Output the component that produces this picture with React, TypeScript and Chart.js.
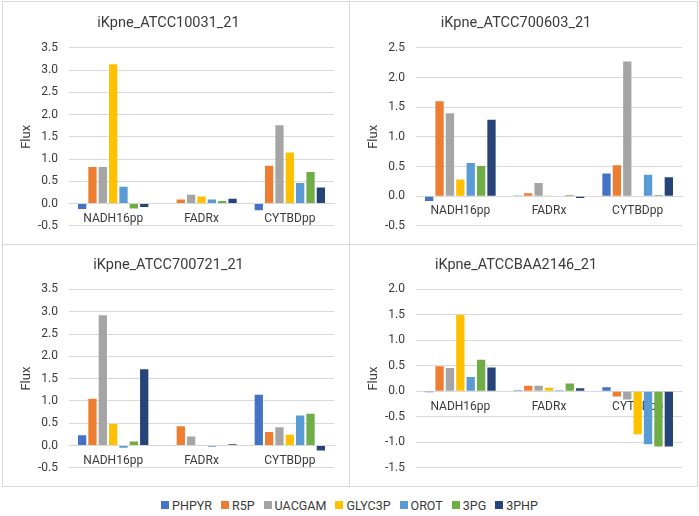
import React, { useEffect, useRef } from 'react';
import { Chart, registerables } from 'chart.js';

Chart.register(...registerables);

const FONT = 'Roboto';
const TEXT = '#3a3a3a';
const GRID = '#d9d9d9';

const reactions = ['NADH16pp', 'FADRx', 'CYTBDpp'];
const metabolites = ['PHPYR', 'R5P', 'UACGAM', 'GLYC3P', 'OROT', '3PG', '3PHP'];
const colors = ['#4472C4', '#ED7D31', '#A5A5A5', '#FFC000', '#5B9BD5', '#70AD47', '#264478'];

// one row per metabolite, values in reaction order: NADH16pp, FADRx, CYTBDpp
const flux10031 = [
  [-0.12, 0, -0.15],
  [0.82, 0.09, 0.85],
  [0.82, 0.2, 1.76],
  [3.13, 0.16, 1.15],
  [0.38, 0.09, 0.46],
  [-0.11, 0.06, 0.71],
  [-0.08, 0.11, 0.36],
];

const flux700603 = [
  [-0.08, 0.01, 0.38],
  [1.6, 0.05, 0.52],
  [1.4, 0.22, 2.27],
  [0.28, 0.01, -0.01],
  [0.56, 0, 0.36],
  [0.51, 0.02, 0.02],
  [1.29, -0.03, 0.32],
];

const flux700721 = [
  [0.23, 0, 1.14],
  [1.05, 0.43, 0.3],
  [2.92, 0.2, 0.41],
  [0.48, 0, 0.24],
  [-0.05, -0.03, 0.67],
  [0.09, 0.01, 0.71],
  [1.71, 0.03, -0.11],
];

const fluxBAA2146 = [
  [-0.02, 0.02, 0.08],
  [0.49, 0.11, -0.1],
  [0.46, 0.11, -0.16],
  [1.5, 0.07, -0.84],
  [0.28, 0.02, -1.04],
  [0.62, 0.155, -1.08],
  [0.47, 0.06, -1.08],
];

interface PanelProps {
  title: string;
  flux: number[][];
  min: number;
  max: number;
  box: React.CSSProperties;
  titleTop: number;
  bottomSpace: number;
}

function FluxPanel({ title, flux, min, max, box, titleTop, bottomSpace }: PanelProps) {
  const canvasRef = useRef<HTMLCanvasElement>(null);

  useEffect(() => {
    if (!canvasRef.current) return;
    const ctx = canvasRef.current.getContext('2d');
    if (!ctx) return;

    const chart = new Chart(ctx, {
      type: 'bar',
      data: {
        labels: reactions,
        datasets: metabolites.map((name, i) => ({
          label: name,
          data: flux[i],
          backgroundColor: colors[i],
          barPercentage: 0.8,
          categoryPercentage: 0.82,
        })),
      },
      options: {
        responsive: true,
        maintainAspectRatio: false,
        animation: false,
        layout: { padding: { right: 15 } },
        plugins: {
          legend: { display: false },
          tooltip: { enabled: false },
          title: {
            display: true,
            text: title,
            color: TEXT,
            font: { family: FONT, size: 14.5, weight: 'normal' },
            padding: { top: titleTop, bottom: 15.5 },
          },
        },
        scales: {
          x: {
            position: { y: 0 },
            z: 1,
            grid: { display: false, drawTicks: false },
            border: { color: GRID, width: 1 },
            ticks: {
              color: TEXT,
              font: { family: FONT, size: 12 },
              padding: 8,
              maxRotation: 0,
            },
            afterFit: (scale) => {
              scale.height = bottomSpace;
            },
          },
          y: {
            min,
            max,
            grid: { color: GRID, drawTicks: false },
            border: { display: false },
            ticks: {
              stepSize: 0.5,
              color: TEXT,
              font: { family: FONT, size: 12 },
              padding: 11,
              callback: (v) => Number(v).toFixed(1),
            },
            title: {
              display: true,
              text: 'Flux',
              color: TEXT,
              font: { family: FONT, size: 13 },
              padding: { top: 16, bottom: 0 },
            },
            afterFit: (scale) => {
              scale.width = 66;
            },
          },
        },
      },
    });

    return () => {
      chart.destroy();
    };
  }, [title, flux, min, max, titleTop, bottomSpace]);

  return (
    <div
      style={{
        position: 'absolute',
        boxSizing: 'border-box',
        border: `1px solid ${GRID}`,
        background: '#fff',
        ...box,
      }}
    >
      <div style={{ position: 'relative', width: '100%', height: '100%' }}>
        <canvas ref={canvasRef} />
      </div>
    </div>
  );
}

export default function App() {
  return (
    <div
      style={{
        position: 'absolute',
        left: 0,
        top: 0,
        width: 699,
        height: 516,
        background: '#fff',
        fontFamily: FONT,
      }}
    >
      <FluxPanel title="iKpne_ATCC10031_21" flux={flux10031} min={-0.5} max={3.5}
        titleTop={13} bottomSpace={12}
        box={{ left: 2, top: 1, width: 348, height: 244 }} />
      <FluxPanel title="iKpne_ATCC700603_21" flux={flux700603} min={-0.5} max={2.5}
        titleTop={13} bottomSpace={12}
        box={{ left: 349, top: 1, width: 349, height: 244 }} />
      <FluxPanel title="iKpne_ATCC700721_21" flux={flux700721} min={-0.5} max={3.5}
        titleTop={11.5} bottomSpace={14}
        box={{ left: 2, top: 244, width: 348, height: 243 }} />
      <FluxPanel title="iKpne_ATCCBAA2146_21" flux={fluxBAA2146} min={-1.5} max={2}
        titleTop={11.5} bottomSpace={14}
        box={{ left: 349, top: 244, width: 349, height: 243 }} />

      <div
        style={{
          position: 'absolute',
          left: 0,
          top: 497,
          width: 699,
          height: 16,
          display: 'flex',
          justifyContent: 'center',
          alignItems: 'center',
          gap: 9,
          fontSize: 12.5,
          color: TEXT,
        }}
      >
        {metabolites.map((name, i) => (
          <div key={name} style={{ display: 'flex', alignItems: 'center' }}>
            <span style={{ width: 8, height: 8, background: colors[i], marginRight: 3 }} />
            <span>{name}</span>
          </div>
        ))}
      </div>
    </div>
  );
}
